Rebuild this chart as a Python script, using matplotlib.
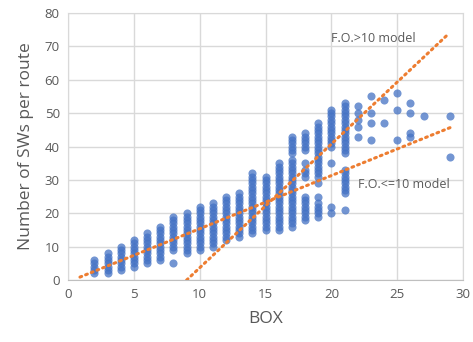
import matplotlib

matplotlib.use("Agg")
import matplotlib.pyplot as plt
import numpy as np

# Nilai: tiap kolom BOX punya sekumpulan nilai SW per route.
box_x = [2, 3, 4, 5, 6, 7, 8, 9, 10, 11, 12, 13, 14, 15, 16, 17, 18, 19,
         20, 21, 22, 23, 24, 25, 26, 27, 29]
sws_per_box = [
    [2, 3, 4, 5, 6],
    [2, 3, 4, 5, 6, 7, 8],
    [3, 4, 5, 6, 7, 8, 9, 10],
    [4, 5, 6, 7, 8, 9, 10, 11, 12],
    [5, 6, 7, 8, 9, 10, 11, 12, 13, 14],
    [6, 7, 8, 9, 10, 11, 12, 13, 14, 15, 16],
    [5, 9, 10, 11, 12, 13, 14, 15, 16, 17, 18, 19],
    [8, 9, 10, 11, 12, 13, 14, 15, 16, 17, 18, 19, 20],
    [9, 10, 11, 12, 13, 14, 15, 16, 17, 18, 19, 20, 21, 22],
    [10, 11, 12, 13, 14, 15, 16, 17, 18, 19, 20, 21, 22, 23],
    [12, 13, 14, 15, 16, 17, 18, 19, 20, 21, 22, 23, 24, 25],
    [13, 14, 15, 16, 17, 18, 19, 20, 21, 22, 23, 24, 25, 26],
    [14, 15, 16, 17, 18, 19, 20, 21, 22, 23, 24, 25, 26, 27, 28, 29, 30, 31, 32],
    [15, 16, 17, 18, 19, 20, 21, 22, 23, 24, 25, 26, 27, 28, 29, 30, 31],
    [15, 16, 17, 18, 19, 20, 21, 22, 23, 24, 25, 26, 27, 28, 29, 30, 31, 32,
     33, 34, 35],
    [16, 17, 18, 19, 20, 21, 22, 23, 24, 25, 26, 27, 28, 29, 30, 31, 32, 33,
     34, 35, 36, 38, 39, 40, 41, 42, 43],
    [18, 19, 20, 21, 22, 23, 24, 25, 31, 32, 33, 35, 39, 40, 41, 42, 43, 44],
    [19, 20, 21, 22, 23, 25, 29, 31, 32, 33, 34, 35, 36, 37, 38, 39, 40, 41,
     42, 43, 44, 45, 46, 47],
    [20, 22, 35, 40, 41, 42, 43, 44, 45, 46, 47, 48, 49, 50, 51],
    [21, 26, 27, 28, 29, 30, 31, 32, 33, 38, 39, 40, 41, 42, 43, 44, 45, 46,
     47, 48, 49, 50, 51, 52, 53],
    [43, 46, 48, 50, 52],
    [42, 47, 50, 55],
    [47, 54],
    [42, 51, 56],
    [43, 44, 50, 53],
    [49],
    [37, 49],
]

# Dua garis model (trendline) dibaca dari ujung-ujungnya.
model_gt10_x = [9.0, 28.8]
model_gt10_y = [0.0, 73.4]
model_le10_x = [0.9, 29.1]
model_le10_y = [0.9, 45.8]

blue = "#4472C4"
orange = "#ED7D31"
grey_text = "#595959"
grid_grey = "#D9D9D9"

plt.rcParams["font.family"] = ["Open Sans", "DejaVu Sans"]

fig = plt.figure(figsize=(4.73, 3.42), dpi=100)
ax = fig.add_axes([0.144, 0.181, 0.835, 0.781])

xs = np.concatenate([[b] * len(v) for b, v in zip(box_x, sws_per_box)])
ys = np.concatenate(sws_per_box)
ax.scatter(xs, ys, s=34, color=blue, alpha=0.75, linewidths=0, zorder=3)

ax.plot(model_gt10_x, model_gt10_y, color=orange, linestyle=(0, (0.6, 1.4)),
        linewidth=2.2, dash_capstyle="round", zorder=4)
ax.plot(model_le10_x, model_le10_y, color=orange, linestyle=(0, (0.6, 1.4)),
        linewidth=2.2, dash_capstyle="round", zorder=4)

ax.text(20.0, 72.5, "F.O.>10 model", fontsize=9, color=grey_text,
        va="center", ha="left", zorder=5)
ax.text(22.0, 28.7, "F.O.<=10 model", fontsize=9, color=grey_text,
        va="center", ha="left", zorder=5)

ax.set_xlim(0, 30)
ax.set_ylim(0, 80)
ax.set_xticks(range(0, 31, 5))
ax.set_yticks(range(0, 81, 10))
ax.grid(True, color=grid_grey, linewidth=1.0, zorder=0)
ax.set_axisbelow(True)
ax.tick_params(length=0, labelsize=9.5, colors=grey_text, pad=6)
for spine in ax.spines.values():
    spine.set_color(grid_grey)
ax.spines["bottom"].set_color("#BFBFBF")

ax.set_xlabel("BOX", fontsize=12.5, color=grey_text, labelpad=7)
ax.set_ylabel("Number of SWs per route", fontsize=12.5, color=grey_text,
              labelpad=8)

fig.savefig("out.png", dpi=100)
